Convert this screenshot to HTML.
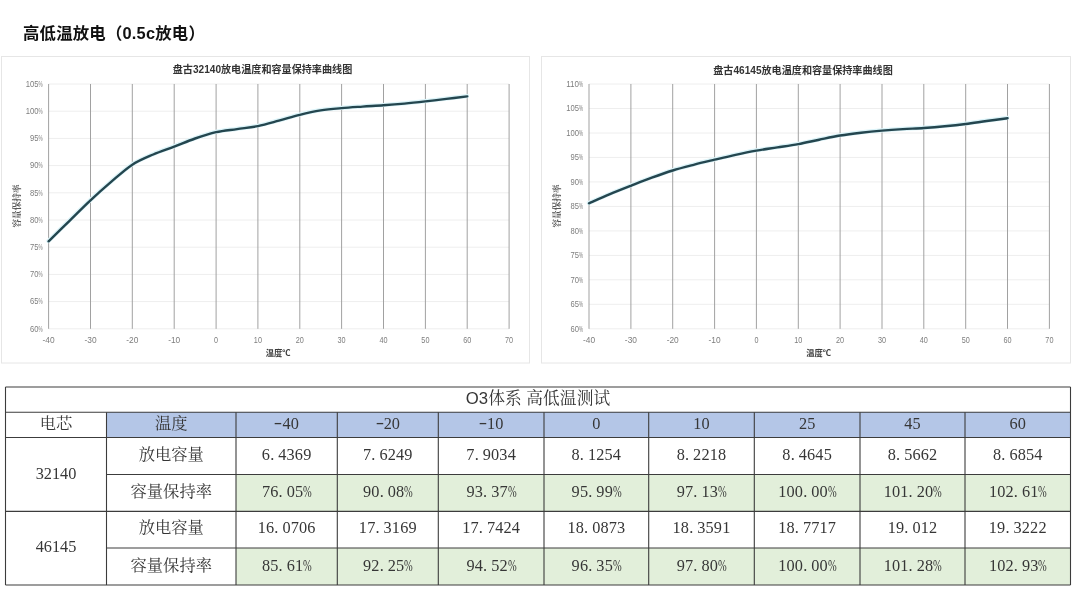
<!DOCTYPE html>
<html lang="zh-CN"><head><meta charset="utf-8"><title>高低温放电</title>
<style>
html,body{margin:0;padding:0;background:#fff;}
body{width:1080px;height:596px;position:relative;overflow:hidden;font-family:"Liberation Serif","Noto Serif CJK SC",serif;color:#333;}
h1{position:absolute;left:23px;top:21px;margin:0;font:bold 16.4px/24px "Liberation Sans","Noto Sans CJK SC",sans-serif;color:#111;white-space:nowrap;letter-spacing:0.2px;}
svg{position:absolute;left:0;top:0;}
.tk{font:8.8px "Liberation Sans","Noto Sans CJK SC",sans-serif;fill:#7d7d7d;}
.tt{font:bold 10.1px "Liberation Sans","Noto Sans CJK SC",sans-serif;fill:#333;}
.ax{font:bold 8.3px "Liberation Sans","Noto Sans CJK SC",sans-serif;fill:#3a3a3a;}
.ay{font:bold 8.6px "Liberation Serif","Noto Serif CJK SC",serif;fill:#555;}
.c{position:absolute;box-sizing:border-box;text-align:center;font-size:16.3px;white-space:nowrap;color:#363636;}
.c.n{letter-spacing:0.15px;}
.mn{display:inline-block;width:0.5em;text-align:center;transform:scaleX(1.55) translateY(-1px);}
.pd{display:inline-block;width:0.5em;text-align:left;}
.pc{display:inline-block;width:0.5em;text-align:left;transform:scaleX(0.64);transform-origin:0 50%;}
.c.hd{font-size:16.7px;letter-spacing:0.15px;}
.sans{font-family:"Liberation Sans",sans-serif;}
#grid line{stroke:#3c3c3c;stroke-width:1.1;}
</style></head><body>
<h1>高低温放电（0.5c放电）</h1>
<svg width="1080" height="596" viewBox="0 0 1080 596">
<rect x="1.5" y="56.5" width="528.0" height="306.5" fill="#fff" stroke="#e6e6e6" stroke-width="1"/>
<line x1="48.6" y1="84.0" x2="509.1" y2="84.0" stroke="#eeeeee" stroke-width="1"/>
<text class="tk" x="42.7" y="86.7" text-anchor="end"><tspan textLength="12.8" lengthAdjust="spacingAndGlyphs">105</tspan><tspan textLength="4.1" lengthAdjust="spacingAndGlyphs">%</tspan></text>
<line x1="48.6" y1="111.2" x2="509.1" y2="111.2" stroke="#eeeeee" stroke-width="1"/>
<text class="tk" x="42.7" y="113.9" text-anchor="end"><tspan textLength="12.8" lengthAdjust="spacingAndGlyphs">100</tspan><tspan textLength="4.1" lengthAdjust="spacingAndGlyphs">%</tspan></text>
<line x1="48.6" y1="138.4" x2="509.1" y2="138.4" stroke="#eeeeee" stroke-width="1"/>
<text class="tk" x="42.7" y="141.1" text-anchor="end"><tspan textLength="8.5" lengthAdjust="spacingAndGlyphs">95</tspan><tspan textLength="4.1" lengthAdjust="spacingAndGlyphs">%</tspan></text>
<line x1="48.6" y1="165.6" x2="509.1" y2="165.6" stroke="#eeeeee" stroke-width="1"/>
<text class="tk" x="42.7" y="168.3" text-anchor="end"><tspan textLength="8.5" lengthAdjust="spacingAndGlyphs">90</tspan><tspan textLength="4.1" lengthAdjust="spacingAndGlyphs">%</tspan></text>
<line x1="48.6" y1="192.8" x2="509.1" y2="192.8" stroke="#eeeeee" stroke-width="1"/>
<text class="tk" x="42.7" y="195.5" text-anchor="end"><tspan textLength="8.5" lengthAdjust="spacingAndGlyphs">85</tspan><tspan textLength="4.1" lengthAdjust="spacingAndGlyphs">%</tspan></text>
<line x1="48.6" y1="220.0" x2="509.1" y2="220.0" stroke="#eeeeee" stroke-width="1"/>
<text class="tk" x="42.7" y="222.7" text-anchor="end"><tspan textLength="8.5" lengthAdjust="spacingAndGlyphs">80</tspan><tspan textLength="4.1" lengthAdjust="spacingAndGlyphs">%</tspan></text>
<line x1="48.6" y1="247.2" x2="509.1" y2="247.2" stroke="#eeeeee" stroke-width="1"/>
<text class="tk" x="42.7" y="249.9" text-anchor="end"><tspan textLength="8.5" lengthAdjust="spacingAndGlyphs">75</tspan><tspan textLength="4.1" lengthAdjust="spacingAndGlyphs">%</tspan></text>
<line x1="48.6" y1="274.4" x2="509.1" y2="274.4" stroke="#eeeeee" stroke-width="1"/>
<text class="tk" x="42.7" y="277.1" text-anchor="end"><tspan textLength="8.5" lengthAdjust="spacingAndGlyphs">70</tspan><tspan textLength="4.1" lengthAdjust="spacingAndGlyphs">%</tspan></text>
<line x1="48.6" y1="301.6" x2="509.1" y2="301.6" stroke="#eeeeee" stroke-width="1"/>
<text class="tk" x="42.7" y="304.3" text-anchor="end"><tspan textLength="8.5" lengthAdjust="spacingAndGlyphs">65</tspan><tspan textLength="4.1" lengthAdjust="spacingAndGlyphs">%</tspan></text>
<line x1="48.6" y1="328.8" x2="509.1" y2="328.8" stroke="#eeeeee" stroke-width="1"/>
<text class="tk" x="42.7" y="331.5" text-anchor="end"><tspan textLength="8.5" lengthAdjust="spacingAndGlyphs">60</tspan><tspan textLength="4.1" lengthAdjust="spacingAndGlyphs">%</tspan></text>
<line x1="48.6" y1="84.0" x2="48.6" y2="328.8" stroke="#9c9c9c" stroke-width="0.95"/>
<text class="tk" x="48.6" y="343.0" text-anchor="middle" textLength="12.1" lengthAdjust="spacingAndGlyphs">-40</text>
<line x1="90.5" y1="84.0" x2="90.5" y2="328.8" stroke="#9c9c9c" stroke-width="0.95"/>
<text class="tk" x="90.5" y="343.0" text-anchor="middle" textLength="12.1" lengthAdjust="spacingAndGlyphs">-30</text>
<line x1="132.3" y1="84.0" x2="132.3" y2="328.8" stroke="#9c9c9c" stroke-width="0.95"/>
<text class="tk" x="132.3" y="343.0" text-anchor="middle" textLength="12.1" lengthAdjust="spacingAndGlyphs">-20</text>
<line x1="174.2" y1="84.0" x2="174.2" y2="328.8" stroke="#9c9c9c" stroke-width="0.95"/>
<text class="tk" x="174.2" y="343.0" text-anchor="middle" textLength="12.1" lengthAdjust="spacingAndGlyphs">-10</text>
<line x1="216.1" y1="84.0" x2="216.1" y2="328.8" stroke="#9c9c9c" stroke-width="0.95"/>
<text class="tk" x="216.1" y="343.0" text-anchor="middle" textLength="4.0" lengthAdjust="spacingAndGlyphs">0</text>
<line x1="257.9" y1="84.0" x2="257.9" y2="328.8" stroke="#9c9c9c" stroke-width="0.95"/>
<text class="tk" x="257.9" y="343.0" text-anchor="middle" textLength="8.1" lengthAdjust="spacingAndGlyphs">10</text>
<line x1="299.8" y1="84.0" x2="299.8" y2="328.8" stroke="#9c9c9c" stroke-width="0.95"/>
<text class="tk" x="299.8" y="343.0" text-anchor="middle" textLength="8.1" lengthAdjust="spacingAndGlyphs">20</text>
<line x1="341.6" y1="84.0" x2="341.6" y2="328.8" stroke="#9c9c9c" stroke-width="0.95"/>
<text class="tk" x="341.6" y="343.0" text-anchor="middle" textLength="8.1" lengthAdjust="spacingAndGlyphs">30</text>
<line x1="383.5" y1="84.0" x2="383.5" y2="328.8" stroke="#9c9c9c" stroke-width="0.95"/>
<text class="tk" x="383.5" y="343.0" text-anchor="middle" textLength="8.1" lengthAdjust="spacingAndGlyphs">40</text>
<line x1="425.4" y1="84.0" x2="425.4" y2="328.8" stroke="#9c9c9c" stroke-width="0.95"/>
<text class="tk" x="425.4" y="343.0" text-anchor="middle" textLength="8.1" lengthAdjust="spacingAndGlyphs">50</text>
<line x1="467.2" y1="84.0" x2="467.2" y2="328.8" stroke="#9c9c9c" stroke-width="0.95"/>
<text class="tk" x="467.2" y="343.0" text-anchor="middle" textLength="8.1" lengthAdjust="spacingAndGlyphs">60</text>
<line x1="509.1" y1="84.0" x2="509.1" y2="328.8" stroke="#9c9c9c" stroke-width="0.95"/>
<text class="tk" x="509.1" y="343.0" text-anchor="middle" textLength="8.1" lengthAdjust="spacingAndGlyphs">70</text>
<path d="M48.60,241.30 C52.09,237.88 62.55,227.62 69.53,220.80 C76.51,213.98 83.49,206.92 90.46,200.40 C97.44,193.88 104.42,187.65 111.40,181.70 C118.37,175.75 125.35,169.23 132.33,164.70 C139.30,160.17 146.28,157.52 153.26,154.50 C160.24,151.48 167.21,149.27 174.19,146.60 C181.17,143.93 188.15,140.90 195.12,138.50 C202.10,136.10 209.08,133.77 216.05,132.20 C223.03,130.63 230.01,130.12 236.99,129.10 C243.96,128.08 250.94,127.50 257.92,126.10 C264.90,124.70 271.87,122.58 278.85,120.70 C285.83,118.82 292.80,116.52 299.78,114.80 C306.76,113.08 313.74,111.52 320.71,110.40 C327.69,109.28 334.67,108.73 341.65,108.10 C348.62,107.47 355.60,107.07 362.58,106.60 C369.55,106.13 376.53,105.80 383.51,105.30 C390.49,104.80 397.46,104.25 404.44,103.60 C411.42,102.95 418.40,102.18 425.37,101.40 C432.35,100.62 439.33,99.73 446.30,98.90 C453.28,98.07 463.75,96.82 467.24,96.40" fill="none" stroke="#dcf4f9" stroke-width="4.2" stroke-linecap="round" transform="translate(-0.2,-0.3)"/>
<path d="M48.60,241.30 C52.09,237.88 62.55,227.62 69.53,220.80 C76.51,213.98 83.49,206.92 90.46,200.40 C97.44,193.88 104.42,187.65 111.40,181.70 C118.37,175.75 125.35,169.23 132.33,164.70 C139.30,160.17 146.28,157.52 153.26,154.50 C160.24,151.48 167.21,149.27 174.19,146.60 C181.17,143.93 188.15,140.90 195.12,138.50 C202.10,136.10 209.08,133.77 216.05,132.20 C223.03,130.63 230.01,130.12 236.99,129.10 C243.96,128.08 250.94,127.50 257.92,126.10 C264.90,124.70 271.87,122.58 278.85,120.70 C285.83,118.82 292.80,116.52 299.78,114.80 C306.76,113.08 313.74,111.52 320.71,110.40 C327.69,109.28 334.67,108.73 341.65,108.10 C348.62,107.47 355.60,107.07 362.58,106.60 C369.55,106.13 376.53,105.80 383.51,105.30 C390.49,104.80 397.46,104.25 404.44,103.60 C411.42,102.95 418.40,102.18 425.37,101.40 C432.35,100.62 439.33,99.73 446.30,98.90 C453.28,98.07 463.75,96.82 467.24,96.40" fill="none" stroke="#24464f" stroke-width="2.4" stroke-linecap="round"/>
<text class="tt" x="262.5" y="73.0" text-anchor="middle">盘古32140放电温度和容量保持率曲线图</text>
<text class="ax" x="278.2" y="355.8" text-anchor="middle">温度℃</text>
<text class="ay" transform="translate(19.5,206) rotate(-90)" text-anchor="middle">容量保持率</text>
<rect x="541.5" y="56.5" width="529.0" height="306.5" fill="#fff" stroke="#e6e6e6" stroke-width="1"/>
<line x1="589.0" y1="84.0" x2="1049.4" y2="84.0" stroke="#eeeeee" stroke-width="1"/>
<text class="tk" x="583.1" y="86.7" text-anchor="end"><tspan textLength="12.8" lengthAdjust="spacingAndGlyphs">110</tspan><tspan textLength="4.1" lengthAdjust="spacingAndGlyphs">%</tspan></text>
<line x1="589.0" y1="108.5" x2="1049.4" y2="108.5" stroke="#eeeeee" stroke-width="1"/>
<text class="tk" x="583.1" y="111.2" text-anchor="end"><tspan textLength="12.8" lengthAdjust="spacingAndGlyphs">105</tspan><tspan textLength="4.1" lengthAdjust="spacingAndGlyphs">%</tspan></text>
<line x1="589.0" y1="133.0" x2="1049.4" y2="133.0" stroke="#eeeeee" stroke-width="1"/>
<text class="tk" x="583.1" y="135.7" text-anchor="end"><tspan textLength="12.8" lengthAdjust="spacingAndGlyphs">100</tspan><tspan textLength="4.1" lengthAdjust="spacingAndGlyphs">%</tspan></text>
<line x1="589.0" y1="157.4" x2="1049.4" y2="157.4" stroke="#eeeeee" stroke-width="1"/>
<text class="tk" x="583.1" y="160.1" text-anchor="end"><tspan textLength="8.5" lengthAdjust="spacingAndGlyphs">95</tspan><tspan textLength="4.1" lengthAdjust="spacingAndGlyphs">%</tspan></text>
<line x1="589.0" y1="181.9" x2="1049.4" y2="181.9" stroke="#eeeeee" stroke-width="1"/>
<text class="tk" x="583.1" y="184.6" text-anchor="end"><tspan textLength="8.5" lengthAdjust="spacingAndGlyphs">90</tspan><tspan textLength="4.1" lengthAdjust="spacingAndGlyphs">%</tspan></text>
<line x1="589.0" y1="206.4" x2="1049.4" y2="206.4" stroke="#eeeeee" stroke-width="1"/>
<text class="tk" x="583.1" y="209.1" text-anchor="end"><tspan textLength="8.5" lengthAdjust="spacingAndGlyphs">85</tspan><tspan textLength="4.1" lengthAdjust="spacingAndGlyphs">%</tspan></text>
<line x1="589.0" y1="230.9" x2="1049.4" y2="230.9" stroke="#eeeeee" stroke-width="1"/>
<text class="tk" x="583.1" y="233.6" text-anchor="end"><tspan textLength="8.5" lengthAdjust="spacingAndGlyphs">80</tspan><tspan textLength="4.1" lengthAdjust="spacingAndGlyphs">%</tspan></text>
<line x1="589.0" y1="255.4" x2="1049.4" y2="255.4" stroke="#eeeeee" stroke-width="1"/>
<text class="tk" x="583.1" y="258.1" text-anchor="end"><tspan textLength="8.5" lengthAdjust="spacingAndGlyphs">75</tspan><tspan textLength="4.1" lengthAdjust="spacingAndGlyphs">%</tspan></text>
<line x1="589.0" y1="279.8" x2="1049.4" y2="279.8" stroke="#eeeeee" stroke-width="1"/>
<text class="tk" x="583.1" y="282.5" text-anchor="end"><tspan textLength="8.5" lengthAdjust="spacingAndGlyphs">70</tspan><tspan textLength="4.1" lengthAdjust="spacingAndGlyphs">%</tspan></text>
<line x1="589.0" y1="304.3" x2="1049.4" y2="304.3" stroke="#eeeeee" stroke-width="1"/>
<text class="tk" x="583.1" y="307.0" text-anchor="end"><tspan textLength="8.5" lengthAdjust="spacingAndGlyphs">65</tspan><tspan textLength="4.1" lengthAdjust="spacingAndGlyphs">%</tspan></text>
<line x1="589.0" y1="328.8" x2="1049.4" y2="328.8" stroke="#eeeeee" stroke-width="1"/>
<text class="tk" x="583.1" y="331.5" text-anchor="end"><tspan textLength="8.5" lengthAdjust="spacingAndGlyphs">60</tspan><tspan textLength="4.1" lengthAdjust="spacingAndGlyphs">%</tspan></text>
<line x1="589.0" y1="84.0" x2="589.0" y2="328.8" stroke="#9c9c9c" stroke-width="0.95"/>
<text class="tk" x="589.0" y="343.0" text-anchor="middle" textLength="12.1" lengthAdjust="spacingAndGlyphs">-40</text>
<line x1="630.9" y1="84.0" x2="630.9" y2="328.8" stroke="#9c9c9c" stroke-width="0.95"/>
<text class="tk" x="630.9" y="343.0" text-anchor="middle" textLength="12.1" lengthAdjust="spacingAndGlyphs">-30</text>
<line x1="672.7" y1="84.0" x2="672.7" y2="328.8" stroke="#9c9c9c" stroke-width="0.95"/>
<text class="tk" x="672.7" y="343.0" text-anchor="middle" textLength="12.1" lengthAdjust="spacingAndGlyphs">-20</text>
<line x1="714.6" y1="84.0" x2="714.6" y2="328.8" stroke="#9c9c9c" stroke-width="0.95"/>
<text class="tk" x="714.6" y="343.0" text-anchor="middle" textLength="12.1" lengthAdjust="spacingAndGlyphs">-10</text>
<line x1="756.4" y1="84.0" x2="756.4" y2="328.8" stroke="#9c9c9c" stroke-width="0.95"/>
<text class="tk" x="756.4" y="343.0" text-anchor="middle" textLength="4.0" lengthAdjust="spacingAndGlyphs">0</text>
<line x1="798.3" y1="84.0" x2="798.3" y2="328.8" stroke="#9c9c9c" stroke-width="0.95"/>
<text class="tk" x="798.3" y="343.0" text-anchor="middle" textLength="8.1" lengthAdjust="spacingAndGlyphs">10</text>
<line x1="840.1" y1="84.0" x2="840.1" y2="328.8" stroke="#9c9c9c" stroke-width="0.95"/>
<text class="tk" x="840.1" y="343.0" text-anchor="middle" textLength="8.1" lengthAdjust="spacingAndGlyphs">20</text>
<line x1="882.0" y1="84.0" x2="882.0" y2="328.8" stroke="#9c9c9c" stroke-width="0.95"/>
<text class="tk" x="882.0" y="343.0" text-anchor="middle" textLength="8.1" lengthAdjust="spacingAndGlyphs">30</text>
<line x1="923.8" y1="84.0" x2="923.8" y2="328.8" stroke="#9c9c9c" stroke-width="0.95"/>
<text class="tk" x="923.8" y="343.0" text-anchor="middle" textLength="8.1" lengthAdjust="spacingAndGlyphs">40</text>
<line x1="965.7" y1="84.0" x2="965.7" y2="328.8" stroke="#9c9c9c" stroke-width="0.95"/>
<text class="tk" x="965.7" y="343.0" text-anchor="middle" textLength="8.1" lengthAdjust="spacingAndGlyphs">50</text>
<line x1="1007.5" y1="84.0" x2="1007.5" y2="328.8" stroke="#9c9c9c" stroke-width="0.95"/>
<text class="tk" x="1007.5" y="343.0" text-anchor="middle" textLength="8.1" lengthAdjust="spacingAndGlyphs">60</text>
<line x1="1049.4" y1="84.0" x2="1049.4" y2="328.8" stroke="#9c9c9c" stroke-width="0.95"/>
<text class="tk" x="1049.4" y="343.0" text-anchor="middle" textLength="8.1" lengthAdjust="spacingAndGlyphs">70</text>
<path d="M589.00,203.30 C592.49,201.78 602.95,197.12 609.93,194.20 C616.90,191.28 623.88,188.55 630.85,185.80 C637.83,183.05 644.81,180.25 651.78,177.70 C658.76,175.15 665.73,172.65 672.71,170.50 C679.68,168.35 686.66,166.60 693.64,164.80 C700.61,163.00 707.59,161.37 714.56,159.70 C721.54,158.03 728.52,156.32 735.49,154.80 C742.47,153.28 749.44,151.83 756.42,150.60 C763.39,149.37 770.37,148.48 777.35,147.40 C784.32,146.32 791.30,145.38 798.27,144.10 C805.25,142.82 812.22,141.12 819.20,139.70 C826.18,138.27 833.15,136.72 840.13,135.55 C847.10,134.38 854.08,133.52 861.05,132.70 C868.03,131.88 875.01,131.20 881.98,130.60 C888.96,130.00 895.93,129.53 902.91,129.10 C909.88,128.67 916.86,128.47 923.84,128.00 C930.81,127.53 937.79,126.97 944.76,126.30 C951.74,125.63 958.72,124.88 965.69,124.00 C972.67,123.12 979.64,121.97 986.62,121.00 C993.59,120.03 1004.06,118.67 1007.55,118.20" fill="none" stroke="#dcf4f9" stroke-width="4.2" stroke-linecap="round" transform="translate(-0.2,-0.3)"/>
<path d="M589.00,203.30 C592.49,201.78 602.95,197.12 609.93,194.20 C616.90,191.28 623.88,188.55 630.85,185.80 C637.83,183.05 644.81,180.25 651.78,177.70 C658.76,175.15 665.73,172.65 672.71,170.50 C679.68,168.35 686.66,166.60 693.64,164.80 C700.61,163.00 707.59,161.37 714.56,159.70 C721.54,158.03 728.52,156.32 735.49,154.80 C742.47,153.28 749.44,151.83 756.42,150.60 C763.39,149.37 770.37,148.48 777.35,147.40 C784.32,146.32 791.30,145.38 798.27,144.10 C805.25,142.82 812.22,141.12 819.20,139.70 C826.18,138.27 833.15,136.72 840.13,135.55 C847.10,134.38 854.08,133.52 861.05,132.70 C868.03,131.88 875.01,131.20 881.98,130.60 C888.96,130.00 895.93,129.53 902.91,129.10 C909.88,128.67 916.86,128.47 923.84,128.00 C930.81,127.53 937.79,126.97 944.76,126.30 C951.74,125.63 958.72,124.88 965.69,124.00 C972.67,123.12 979.64,121.97 986.62,121.00 C993.59,120.03 1004.06,118.67 1007.55,118.20" fill="none" stroke="#24464f" stroke-width="2.4" stroke-linecap="round"/>
<text class="tt" x="803.0" y="73.5" text-anchor="middle">盘古46145放电温度和容量保持率曲线图</text>
<text class="ax" x="818.6" y="355.8" text-anchor="middle">温度℃</text>
<text class="ay" transform="translate(559.5,206) rotate(-90)" text-anchor="middle">容量保持率</text>
</svg>
<div class="c hd" style="left:5.5px;top:387.0px;width:1065.0px;height:25.3px;line-height:24.3px;"><span class="sans">O3</span>体系 高低温测试</div>
<div class="c " style="left:5.5px;top:412.3px;width:101.0px;height:25.2px;line-height:23.2px;">电芯</div>
<div class="c " style="left:106.5px;top:412.3px;width:129.5px;height:25.2px;line-height:23.2px;background:#b4c6e7;">温度</div>
<div class="c " style="left:236.0px;top:412.3px;width:101.3px;height:25.2px;line-height:23.2px;background:#b4c6e7;"><span class="mn">-</span>40</div>
<div class="c " style="left:337.3px;top:412.3px;width:101.0px;height:25.2px;line-height:23.2px;background:#b4c6e7;"><span class="mn">-</span>20</div>
<div class="c " style="left:438.3px;top:412.3px;width:105.7px;height:25.2px;line-height:23.2px;background:#b4c6e7;"><span class="mn">-</span>10</div>
<div class="c " style="left:544.0px;top:412.3px;width:104.7px;height:25.2px;line-height:23.2px;background:#b4c6e7;">0</div>
<div class="c " style="left:648.7px;top:412.3px;width:105.6px;height:25.2px;line-height:23.2px;background:#b4c6e7;">10</div>
<div class="c " style="left:754.3px;top:412.3px;width:105.7px;height:25.2px;line-height:23.2px;background:#b4c6e7;">25</div>
<div class="c " style="left:860.0px;top:412.3px;width:105.0px;height:25.2px;line-height:23.2px;background:#b4c6e7;">45</div>
<div class="c " style="left:965.0px;top:412.3px;width:105.5px;height:25.2px;line-height:23.2px;background:#b4c6e7;">60</div>
<div class="c " style="left:5.5px;top:437.5px;width:101.0px;height:73.9px;line-height:71.9px;">32140</div>
<div class="c " style="left:5.5px;top:511.4px;width:101.0px;height:73.6px;line-height:71.6px;">46145</div>
<div class="c " style="left:106.5px;top:437.5px;width:129.5px;height:37.0px;line-height:34.0px;">放电容量</div>
<div class="c n" style="left:236.0px;top:437.5px;width:101.3px;height:37.0px;line-height:34.0px;">6<span class="pd">.</span>4369</div>
<div class="c n" style="left:337.3px;top:437.5px;width:101.0px;height:37.0px;line-height:34.0px;">7<span class="pd">.</span>6249</div>
<div class="c n" style="left:438.3px;top:437.5px;width:105.7px;height:37.0px;line-height:34.0px;">7<span class="pd">.</span>9034</div>
<div class="c n" style="left:544.0px;top:437.5px;width:104.7px;height:37.0px;line-height:34.0px;">8<span class="pd">.</span>1254</div>
<div class="c n" style="left:648.7px;top:437.5px;width:105.6px;height:37.0px;line-height:34.0px;">8<span class="pd">.</span>2218</div>
<div class="c n" style="left:754.3px;top:437.5px;width:105.7px;height:37.0px;line-height:34.0px;">8<span class="pd">.</span>4645</div>
<div class="c n" style="left:860.0px;top:437.5px;width:105.0px;height:37.0px;line-height:34.0px;">8<span class="pd">.</span>5662</div>
<div class="c n" style="left:965.0px;top:437.5px;width:105.5px;height:37.0px;line-height:34.0px;">8<span class="pd">.</span>6854</div>
<div class="c " style="left:106.5px;top:474.5px;width:129.5px;height:36.9px;line-height:33.9px;">容量保持率</div>
<div class="c n" style="left:236.0px;top:474.5px;width:101.3px;height:36.9px;line-height:33.9px;background:#e2efda;">76<span class="pd">.</span>05<span class="pc">%</span></div>
<div class="c n" style="left:337.3px;top:474.5px;width:101.0px;height:36.9px;line-height:33.9px;background:#e2efda;">90<span class="pd">.</span>08<span class="pc">%</span></div>
<div class="c n" style="left:438.3px;top:474.5px;width:105.7px;height:36.9px;line-height:33.9px;background:#e2efda;">93<span class="pd">.</span>37<span class="pc">%</span></div>
<div class="c n" style="left:544.0px;top:474.5px;width:104.7px;height:36.9px;line-height:33.9px;background:#e2efda;">95<span class="pd">.</span>99<span class="pc">%</span></div>
<div class="c n" style="left:648.7px;top:474.5px;width:105.6px;height:36.9px;line-height:33.9px;background:#e2efda;">97<span class="pd">.</span>13<span class="pc">%</span></div>
<div class="c n" style="left:754.3px;top:474.5px;width:105.7px;height:36.9px;line-height:33.9px;background:#e2efda;">100<span class="pd">.</span>00<span class="pc">%</span></div>
<div class="c n" style="left:860.0px;top:474.5px;width:105.0px;height:36.9px;line-height:33.9px;background:#e2efda;">101<span class="pd">.</span>20<span class="pc">%</span></div>
<div class="c n" style="left:965.0px;top:474.5px;width:105.5px;height:36.9px;line-height:33.9px;background:#e2efda;">102<span class="pd">.</span>61<span class="pc">%</span></div>
<div class="c " style="left:106.5px;top:511.4px;width:129.5px;height:36.6px;line-height:34.6px;">放电容量</div>
<div class="c n" style="left:236.0px;top:511.4px;width:101.3px;height:36.6px;line-height:34.6px;">16<span class="pd">.</span>0706</div>
<div class="c n" style="left:337.3px;top:511.4px;width:101.0px;height:36.6px;line-height:34.6px;">17<span class="pd">.</span>3169</div>
<div class="c n" style="left:438.3px;top:511.4px;width:105.7px;height:36.6px;line-height:34.6px;">17<span class="pd">.</span>7424</div>
<div class="c n" style="left:544.0px;top:511.4px;width:104.7px;height:36.6px;line-height:34.6px;">18<span class="pd">.</span>0873</div>
<div class="c n" style="left:648.7px;top:511.4px;width:105.6px;height:36.6px;line-height:34.6px;">18<span class="pd">.</span>3591</div>
<div class="c n" style="left:754.3px;top:511.4px;width:105.7px;height:36.6px;line-height:34.6px;">18<span class="pd">.</span>7717</div>
<div class="c n" style="left:860.0px;top:511.4px;width:105.0px;height:36.6px;line-height:34.6px;">19<span class="pd">.</span>012</div>
<div class="c n" style="left:965.0px;top:511.4px;width:105.5px;height:36.6px;line-height:34.6px;">19<span class="pd">.</span>3222</div>
<div class="c " style="left:106.5px;top:548.0px;width:129.5px;height:37.0px;line-height:35.0px;">容量保持率</div>
<div class="c n" style="left:236.0px;top:548.0px;width:101.3px;height:37.0px;line-height:35.0px;background:#e2efda;">85<span class="pd">.</span>61<span class="pc">%</span></div>
<div class="c n" style="left:337.3px;top:548.0px;width:101.0px;height:37.0px;line-height:35.0px;background:#e2efda;">92<span class="pd">.</span>25<span class="pc">%</span></div>
<div class="c n" style="left:438.3px;top:548.0px;width:105.7px;height:37.0px;line-height:35.0px;background:#e2efda;">94<span class="pd">.</span>52<span class="pc">%</span></div>
<div class="c n" style="left:544.0px;top:548.0px;width:104.7px;height:37.0px;line-height:35.0px;background:#e2efda;">96<span class="pd">.</span>35<span class="pc">%</span></div>
<div class="c n" style="left:648.7px;top:548.0px;width:105.6px;height:37.0px;line-height:35.0px;background:#e2efda;">97<span class="pd">.</span>80<span class="pc">%</span></div>
<div class="c n" style="left:754.3px;top:548.0px;width:105.7px;height:37.0px;line-height:35.0px;background:#e2efda;">100<span class="pd">.</span>00<span class="pc">%</span></div>
<div class="c n" style="left:860.0px;top:548.0px;width:105.0px;height:37.0px;line-height:35.0px;background:#e2efda;">101<span class="pd">.</span>28<span class="pc">%</span></div>
<div class="c n" style="left:965.0px;top:548.0px;width:105.5px;height:37.0px;line-height:35.0px;background:#e2efda;">102<span class="pd">.</span>93<span class="pc">%</span></div>
<svg id="grid" width="1080" height="596" viewBox="0 0 1080 596">
<line x1="5.5" y1="387.0" x2="1070.5" y2="387.0"/>
<line x1="5.5" y1="412.3" x2="1070.5" y2="412.3"/>
<line x1="5.5" y1="437.5" x2="1070.5" y2="437.5"/>
<line x1="106.5" y1="474.5" x2="1070.5" y2="474.5"/>
<line x1="5.5" y1="511.4" x2="1070.5" y2="511.4"/>
<line x1="106.5" y1="548.0" x2="1070.5" y2="548.0"/>
<line x1="5.5" y1="585.0" x2="1070.5" y2="585.0"/>
<line x1="5.5" y1="387.0" x2="5.5" y2="585.0"/>
<line x1="1070.5" y1="387.0" x2="1070.5" y2="585.0"/>
<line x1="106.5" y1="412.3" x2="106.5" y2="585.0"/>
<line x1="236.0" y1="412.3" x2="236.0" y2="585.0"/>
<line x1="337.3" y1="412.3" x2="337.3" y2="585.0"/>
<line x1="438.3" y1="412.3" x2="438.3" y2="585.0"/>
<line x1="544.0" y1="412.3" x2="544.0" y2="585.0"/>
<line x1="648.7" y1="412.3" x2="648.7" y2="585.0"/>
<line x1="754.3" y1="412.3" x2="754.3" y2="585.0"/>
<line x1="860.0" y1="412.3" x2="860.0" y2="585.0"/>
<line x1="965.0" y1="412.3" x2="965.0" y2="585.0"/>
</svg>
</body></html>
